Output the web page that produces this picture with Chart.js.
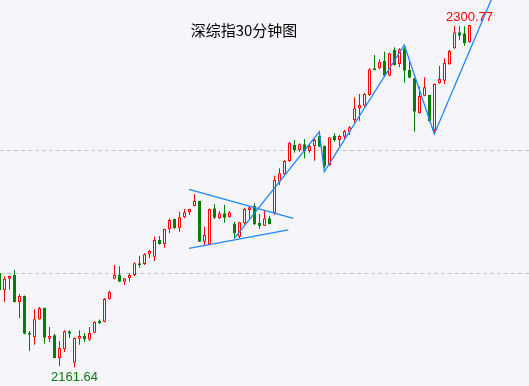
<!DOCTYPE html>
<html><head><meta charset="utf-8">
<script src="https://cdn.jsdelivr.net/npm/chart.js@4"></script>
<style>html,body{margin:0;padding:0;background:#f5f5fa;}canvas{display:block}</style>
</head><body>
<canvas id="c" width="529" height="386"></canvas>
<script>
const chartTitle = '深综指30分钟图';
const opens = [2200.0,2192.97,2197.69,2199.31,2188.22,2190.66,2175.74,2173.87,2181.18,2185.78,
2173.30,2174.68,2165.45,2168.99,2176.31,2163.54,2173.30,2174.40,2172.89,2175.74,
2180.49,2180.21,2189.32,2197.69,2199.19,2196.47,2197.85,2199.19,2203.95,2203.66,
2207.61,2206.63,2213.42,2211.79,2217.77,2221.96,2218.18,2222.65,2224.68,2227.24,
2229.27,2212.73,2211.67,2226.31,2222.24,2224.27,2222.65,2219.92,2214.76,2220.21,
2225.62,2227.24,2220.45,2219.23,2222.24,2224.27,2237.12,2240.13,2245.53,2252.04,
2250.00,2252.32,2249.59,2251.63,2255.70,2251.63,2243.91,2255.70,2254.07,2255.41,
2257.44,2262.20,2266.96,2268.01,2272.36,2283.22,2283.22,2286.18,2280.21,2290.66,
2284.96,2291.35,2282.52,2279.15,2264.92,2272.08,2272.36,2258.13,2277.12,2278.18,
2284.84,2291.35,2297.85,2297.44,2293.79];
const closes = [2193.09,2197.69,2198.79,2188.22,2190.66,2175.33,2174.92,2181.18,2185.78,2173.71,
2174.40,2165.45,2169.52,2176.31,2175.33,2173.58,2174.40,2173.05,2175.62,2180.21,
2179.56,2189.44,2192.40,2199.19,2196.47,2197.85,2199.19,2203.95,2203.26,2207.61,
2209.07,2213.42,2211.79,2217.89,2221.55,2218.18,2222.65,2224.68,2226.02,2229.27,
2212.73,2215.45,2226.02,2222.48,2224.27,2222.48,2224.68,2216.14,2220.62,2226.02,
2226.71,2219.80,2219.11,2222.24,2219.92,2237.81,2240.53,2245.53,2252.97,2250.00,
2252.32,2249.59,2251.63,2254.07,2251.35,2243.50,2255.17,2254.07,2255.70,2257.73,
2259.23,2266.96,2268.30,2272.77,2282.81,2282.52,2285.90,2280.21,2289.31,2284.56,
2290.94,2282.24,2279.39,2265.57,2271.96,2275.49,2261.79,2276.83,2278.87,2285.49,
2290.25,2297.85,2296.47,2293.38,2300.77];
const highs = [2200.8,2198.66,2199.0,2201.35,2191.59,2190.9,2176.43,2185.25,2186.18,2186.0,
2178.05,2175.33,2172.36,2176.72,2176.72,2173.8,2176.72,2175.62,2178.05,2180.49,
2181.10,2189.84,2192.81,2203.26,2202.85,2198.0,2199.88,2204.36,2206.92,2208.02,
2209.36,2214.76,2215.05,2218.0,2222.24,2222.1,2224.92,2226.02,2226.1,2232.0,
2229.4,2218.83,2226.2,2228.05,2225.21,2227.64,2225.21,2220.86,2220.86,2226.55,
2227.24,2228.34,2223.99,2225.33,2223.18,2239.56,2242.57,2245.94,2253.38,2254.07,
2252.73,2254.48,2252.32,2254.48,2257.85,2251.8,2255.3,2256.79,2256.1,2258.13,
2259.76,2271.43,2272.77,2273.18,2283.22,2288.62,2286.87,2289.96,2289.55,2291.75,
2291.35,2292.69,2286.59,2279.39,2275.74,2279.56,2272.5,2277.0,2284.15,2287.28,
2290.66,2300.5,2300.4,2300.3,2300.77];
const lows = [2192.28,2188.22,2193.22,2188.0,2181.71,2175.1,2168.42,2170.86,2181.0,2171.27,
2171.96,2165.3,2162.20,2167.89,2173.58,2161.64,2170.86,2171.96,2172.36,2175.5,
2179.27,2180.0,2189.2,2197.5,2196.3,2195.13,2196.47,2198.79,2202.16,2203.26,
2205.98,2204.88,2211.6,2210.29,2216.14,2218.0,2216.79,2222.24,2223.58,2227.1,
2212.6,2211.39,2211.5,2221.96,2221.96,2220.45,2222.5,2214.11,2214.11,2219.8,
2221.96,2219.5,2217.89,2219.1,2219.8,2223.58,2235.78,2239.84,2245.2,2248.91,
2249.3,2246.63,2248.91,2245.66,2251.2,2242.69,2243.50,2253.38,2251.63,2254.07,
2256.10,2261.10,2261.9,2267.6,2271.96,2282.4,2282.81,2280.0,2280.0,2284.4,
2283.62,2277.36,2279.2,2257.44,2264.7,2271.9,2261.6,2256.79,2276.9,2276.83,
2284.7,2291.2,2294.72,2292.40,2293.6];
const gridTicks = [2200, 2250];
const triUpper = [{x:37.9,y:2234.0},{x:58.76,y:2222.2}];
const triLower = [{x:37.9,y:2210.0},{x:57.76,y:2217.5}];
const zigzag = [{x:46.96,y:2214.1},{x:63.96,y:2257.4},{x:64.96,y:2241.2},{x:80.96,y:2292.7},{x:86.96,y:2256.5},{x:100.1,y:2319.5}];

const BG = '#f5f5fa', RED = '#ff0000', GREEN = '#008000', BLUE = '#1e88ff';
const idx = opens.map((_, i) => i);
const up = idx.map(i => closes[i] >= opens[i]);
const bodyData = idx.map(i => ({x: i, y: [opens[i], closes[i]]}));
const wickData = idx.map(i => ({x: i, y: [lows[i], highs[i]]}));

const hiVal = Math.max(...highs), loVal = Math.min(...lows);
const hiIdx = highs.lastIndexOf(hiVal), loIdx = lows.indexOf(loVal);

const textPlugin = {
  id: 'texts',
  beforeDraw(chart) {
    const c = chart.ctx; c.save(); c.fillStyle = BG; c.fillRect(0, 0, chart.width, chart.height); c.restore();
  },
  afterDatasetsDraw(chart) {
    const c = chart.ctx, xs = chart.scales.x, ys = chart.scales.y;
    c.save();
    c.textAlign = 'center'; c.textBaseline = 'middle';
    c.font = '15px "Noto Sans CJK SC", sans-serif';
    c.fillStyle = '#000000';
    c.fillText(chartTitle, 244, 30);
    c.font = '13px "Liberation Sans", Arial, sans-serif';
    c.fillStyle = RED;
    c.fillText(hiVal.toFixed(2), xs.getPixelForValue(hiIdx), ys.getPixelForValue(hiVal) - 8);
    c.fillStyle = '#0a7a0a';
    c.fillText(loVal.toFixed(2), xs.getPixelForValue(loIdx), ys.getPixelForValue(loVal) + 10);
    c.restore();
  }
};

const lineDs = (data) => ({type: 'line', data, borderColor: BLUE, borderWidth: 1.3, pointRadius: 0, fill: false, tension: 0, order: -1});

new Chart(document.getElementById('c'), {
  type: 'bar',
  data: {
    datasets: [
      {data: bodyData, grouped: false, barThickness: 3, order: 0, minBarLength: 1,
       backgroundColor: idx.map(i => up[i] ? BG : GREEN),
       borderColor: idx.map(i => up[i] ? RED : GREEN),
       borderWidth: 1, borderSkipped: false, inflateAmount: 0},
      {data: wickData, grouped: false, barThickness: 1, order: 1,
       backgroundColor: idx.map(i => up[i] ? RED : GREEN),
       borderWidth: 0, borderSkipped: false, inflateAmount: 0},
      lineDs(triUpper), lineDs(triLower), lineDs(zigzag)
    ]
  },
  options: {
    responsive: false, animation: false, devicePixelRatio: 1,
    layout: {padding: 0},
    plugins: {legend: {display: false}, tooltip: {enabled: false}, title: {display: false}},
    scales: {
      x: {type: 'linear', min: 0.1, max: 105.9, offset: false, display: false},
      y: {type: 'linear', min: 2154.07, max: 2310.98, position: 'left',
          afterBuildTicks: s => { s.ticks = gridTicks.map(v => ({value: v})); },
          afterFit: s => { s.width = 0; },
          ticks: {display: false},
          grid: {color: '#c4c4c4', lineWidth: 1, drawTicks: false, tickLength: 0},
          border: {display: false, dash: [4, 3]}}
    }
  },
  plugins: [textPlugin]
});
</script>
</body></html>
